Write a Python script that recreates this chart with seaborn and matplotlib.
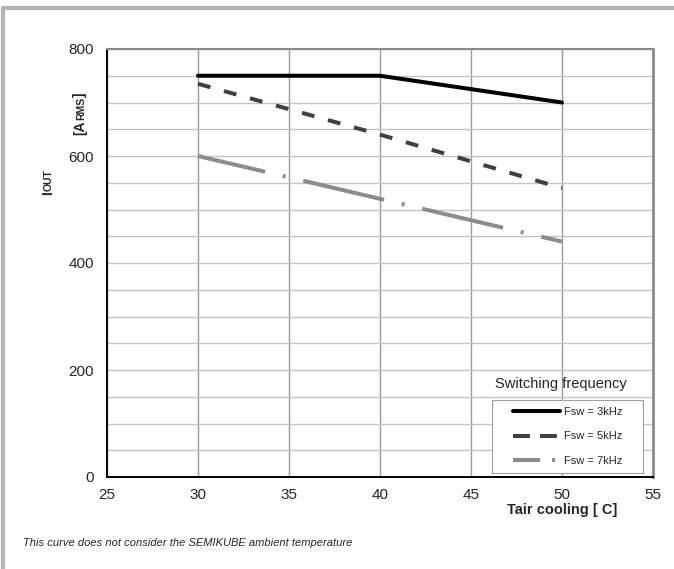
import pandas as pd
import matplotlib.pyplot as plt
import seaborn as sns
from matplotlib.lines import Line2D
from matplotlib.patches import Rectangle
from matplotlib.ticker import MultipleLocator

# Valores
temperatures = [30, 40, 50]
iout_3khz = [750, 750, 700]
iout_5khz = [735, 640, 540]
iout_7khz = [600, 520, 440]
series_names = ["Fsw = 3kHz", "Fsw = 5kHz", "Fsw = 7kHz"]
x_ticks = [25, 30, 35, 40, 45, 50, 55]
y_ticks = [0, 200, 400, 600, 800]

rows = []
for name, vals in zip(series_names, [iout_3khz, iout_5khz, iout_7khz]):
    for t, v in zip(temperatures, vals):
        rows.append({"Tair": t, "Iout": v, "Fsw": name})
df = pd.DataFrame(rows)

sns.set_style("white")
plt.rcParams["font.family"] = ["Liberation Sans", "DejaVu Sans"]

fig = plt.figure(figsize=(6.74, 5.69), dpi=100)
W, H = 674, 569
ax = fig.add_axes([107 / W, 1 - 477 / H, (653 - 107) / W, (477 - 49) / H])

colors = {series_names[0]: "#000000", series_names[1]: "#404040", series_names[2]: "#8c8c8c"}
dashes = {series_names[0]: "", series_names[1]: (3.2, 3.5), series_names[2]: (20.6, 4.5, 0.75, 4.5)}

sns.lineplot(data=df, x="Tair", y="Iout", hue="Fsw", style="Fsw",
             palette=colors, dashes=dashes, linewidth=2.9, ax=ax, legend=True)
# traço-ponto começa com um traço mais curto
ax.lines[2].set_linestyle((3.5, (20.6, 4.5, 0.75, 4.5)))

ax.set_xlim(25, 55)
ax.set_ylim(0, 800)
ax.set_xticks(x_ticks)
ax.set_yticks(y_ticks)
ax.yaxis.set_minor_locator(MultipleLocator(50))
ax.grid(True, axis="x", which="major", color="#9a9a9a", linewidth=1)
ax.grid(True, axis="y", which="both", color="#c4c4c4", linewidth=1)
ax.set_axisbelow(True)
ax.tick_params(axis="y", which="both", direction="out", length=3, width=1,
               color="#555555", labelsize=11, pad=6.5)
ax.tick_params(axis="x", which="major", direction="out", length=2, width=1,
               color="#555555", labelsize=11, pad=6)
ax.set_xlabel("")
ax.set_ylabel("")

for side in ["left", "bottom"]:
    ax.spines[side].set_color("black")
    ax.spines[side].set_linewidth(1.4)
ax.spines["top"].set_color("#8a8a8a")
ax.spines["top"].set_linewidth(1.5)
ax.spines["right"].set_color("#8a8a8a")
ax.spines["right"].set_linewidth(2.0)

# legenda sem moldura + caixa desenhada à parte
handles, labels = ax.get_legend_handles_labels()
leg = ax.legend(handles, labels, loc="upper left", bbox_to_anchor=(513 / W, 1 - 407 / H),
                bbox_transform=fig.transFigure, fontsize=8, handlelength=4.2,
                handletextpad=0.4, labelspacing=1.3, borderpad=0, borderaxespad=0,
                frameon=False)
leg.set_zorder(6)
leg_lines = leg.get_lines()
for h in leg_lines:
    h.set_linewidth(2.9)
leg_lines[1].set_linestyle((0, (4.2, 2.5)))
leg_lines[2].set_linestyle((0, (6.7, 3.0, 0.75, 3.0)))

ax.add_patch(Rectangle((492 / W, 1 - 473 / H), (643 - 492) / W, (473 - 400) / H,
                       transform=fig.transFigure, facecolor="white", edgecolor="#a0a0a0",
                       linewidth=0.8, zorder=5.5, clip_on=False))

fig.text(561 / W, 1 - 384 / H, "Switching frequency", ha="center", va="center", fontsize=10.5)
fig.text(562 / W, 1 - 510 / H, "Tair cooling [ C]", ha="center", va="center",
         fontsize=10.5, fontweight="bold")
fig.text(23 / W, 1 - 543 / H, "This curve does not consider the SEMIKUBE ambient temperature",
         ha="left", va="center", fontsize=8, style="italic")


def rotated_label(x_px, y_px, pieces):
    # escreve pedaços de texto vertical, um após o outro (maiúscula + versalete)
    fig.canvas.draw()
    r = fig.canvas.get_renderer()
    y = y_px
    for txt, size in pieces:
        t = fig.text(x_px / W, 1 - y / H, txt, rotation=90, rotation_mode="anchor",
                     ha="left", va="baseline", fontsize=size, fontweight="bold")
        bb = t.get_window_extent(renderer=r)
        y -= bb.height


rotated_label(52, 195, [("I", 10), ("OUT", 7.5)])
rotated_label(84, 135, [("[A", 10), ("RMS", 7.5), ("]", 10)])

# moldura cinza da página
fig.add_artist(Line2D([3 / W, 3 / W], [0, 1 - 8 / H], color="#b4b4b4", linewidth=3,
                      transform=fig.transFigure))
fig.add_artist(Line2D([3 / W, 1], [1 - 8 / H, 1 - 8 / H], color="#b4b4b4", linewidth=3,
                      transform=fig.transFigure))

fig.savefig("out.png", dpi=100, facecolor="white")
